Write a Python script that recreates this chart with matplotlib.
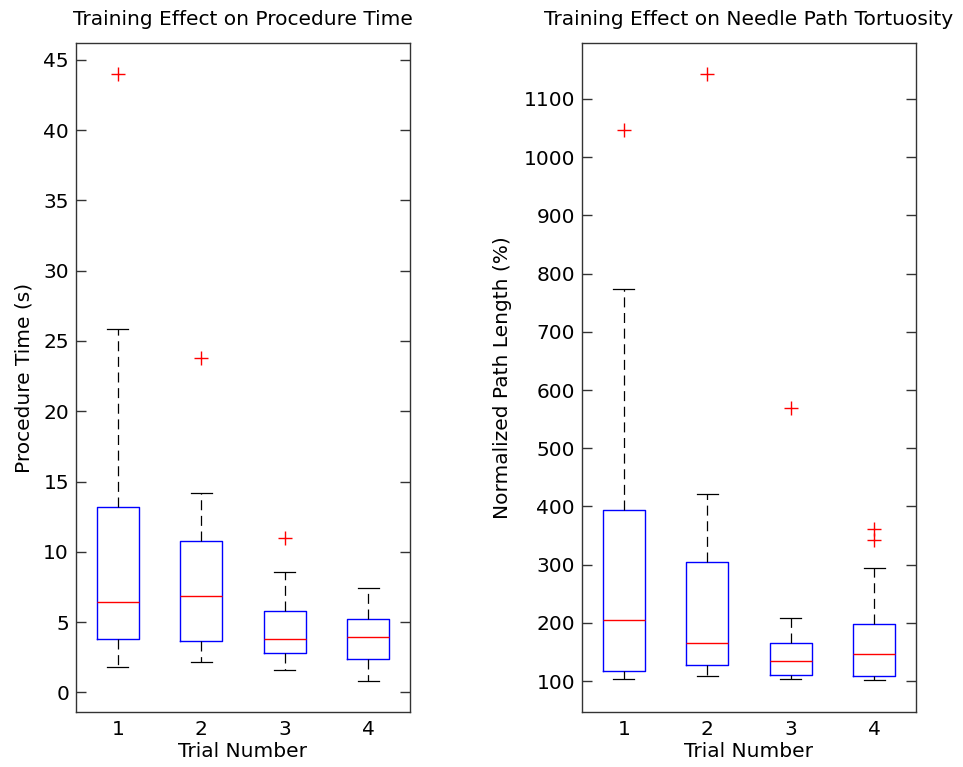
import matplotlib
matplotlib.use("Agg")
import matplotlib.pyplot as plt

plt.rcParams['font.family'] = ['DejaVu Sans']

trials = [1, 2, 3, 4]
tick_labels = ['1', '2', '3', '4']

# Procedure time (s)
time_whislo = [1.80, 2.18, 1.57, 0.81]
time_q1 = [3.77, 3.63, 2.80, 2.39]
time_med = [6.43, 6.84, 3.77, 3.94]
time_q3 = [13.2, 10.8, 5.82, 5.22]
time_whishi = [25.83, 14.2, 8.57, 7.45]
time_fliers = [[43.97], [23.76], [11.0], []]

# Normalized path length (%)
path_whislo = [103.4, 109.0, 103.4, 101.8]
path_q1 = [116.7, 127.5, 111.0, 109.3]
path_med = [204.9, 166.0, 134.4, 145.9]
path_q3 = [393.4, 304.0, 166.0, 197.5]
path_whishi = [773.4, 421.5, 208.3, 295.0]
path_fliers = [[1047.0], [1142.5], [569.3], [360.8, 342.4]]

FIG_W, FIG_H = 963, 767
fig = plt.figure(figsize=(FIG_W / 100, FIG_H / 100), dpi=100)
FS = 14.5


def make_stats(lo, q1, med, q3, hi, fl):
    return [dict(whislo=a, q1=b, med=c, q3=d, whishi=e, fliers=f)
            for a, b, c, d, e, f in zip(lo, q1, med, q3, hi, fl)]


def draw(ax, stats, ylim, yticks, title, ylabel, lpad):
    ax.bxp(stats, positions=trials, widths=0.5, showfliers=True,
           boxprops=dict(color='blue', linewidth=1.0),
           medianprops=dict(color='red', linewidth=1.0),
           whiskerprops=dict(color='black', linestyle=(0, (8, 4.5)), linewidth=0.9),
           capprops=dict(color='black', linewidth=0.9),
           capwidths=0.25,
           flierprops=dict(marker='+', markeredgecolor='red', markersize=10,
                           markeredgewidth=1.0, linestyle='none'))
    ax.set_xlim(0.5, 4.5)
    ax.set_ylim(*ylim)
    ax.set_xticks(trials)
    ax.set_xticklabels(tick_labels)
    ax.set_yticks(yticks)
    ax.tick_params(axis='x', length=0, labelsize=FS, pad=6, colors='black')
    ax.tick_params(axis='y', direction='in', length=7, width=1, labelsize=FS,
                   left=True, right=True, color='#333333', labelcolor='black', pad=5)
    for s in ax.spines.values():
        s.set_color('#333333')
        s.set_linewidth(1.0)
    ax.set_title(title, fontsize=FS, pad=13)
    ax.set_xlabel('Trial Number', fontsize=FS, labelpad=2)
    ax.set_ylabel(ylabel, fontsize=FS, labelpad=lpad)


ax1 = fig.add_axes([76 / FIG_W, (FIG_H - 712) / FIG_H, (410 - 76) / FIG_W, (712 - 43) / FIG_H])
draw(ax1, make_stats(time_whislo, time_q1, time_med, time_q3, time_whishi, time_fliers),
     (-1.4, 46.2), list(range(0, 46, 5)),
     'Training Effect on Procedure Time', 'Procedure Time (s)', 7)

ax2 = fig.add_axes([582 / FIG_W, (FIG_H - 712) / FIG_H, (916 - 582) / FIG_W, (712 - 43) / FIG_H])
draw(ax2, make_stats(path_whislo, path_q1, path_med, path_q3, path_whishi, path_fliers),
     (47, 1196), list(range(100, 1101, 100)),
     'Training Effect on Needle Path Tortuosity', 'Normalized Path Length (%)', 8)

fig.savefig('out.png', dpi=100)
